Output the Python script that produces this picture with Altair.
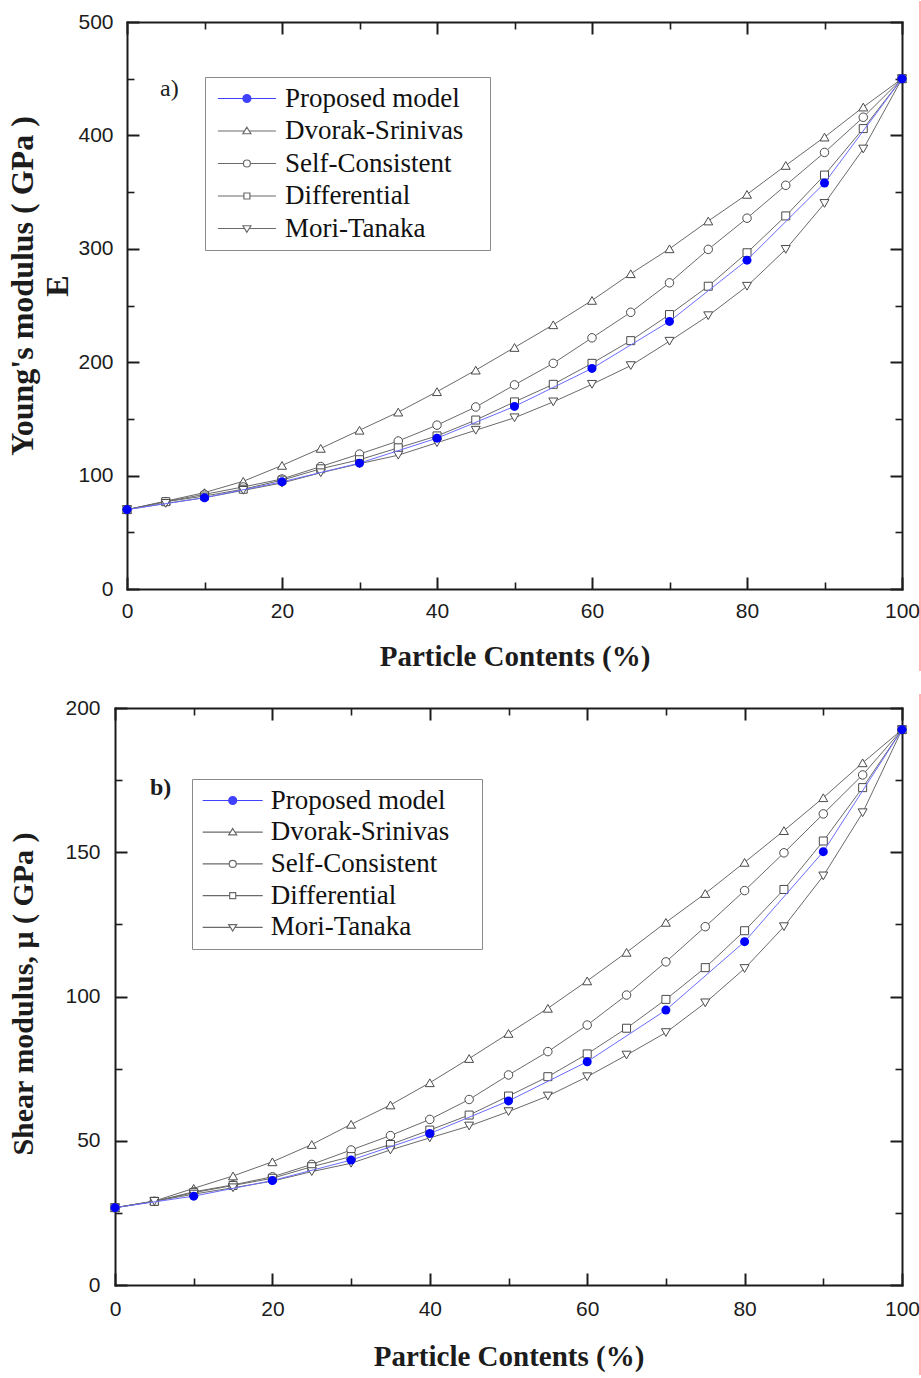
import altair as alt
import pandas as pd

# ---------------- data ----------------
pct = list(range(0, 101, 5))          # 0,5,...,100
pct_prop = list(range(0, 101, 10))    # 0,10,...,100

series_names = ["Proposed model", "Dvorak-Srinivas", "Self-Consistent",
                "Differential", "Mori-Tanaka"]

# a) Young's modulus E (GPa)
E_proposed = [70, 80.5, 94.5, 111, 133, 161, 194.5, 236, 290, 358, 450]
E_dvorak = [70, 77.5, 85, 95, 109, 124, 140, 156, 174, 193, 213, 233, 254.5,
            278, 300, 324.5, 348, 373.5, 398.5, 425, 450]
E_self = [70, 77, 83.5, 90, 97, 108, 119, 130.5, 144.5, 160.5, 180, 199,
          221.5, 244, 270, 299.5, 327, 356, 385, 416, 450]
E_diff = [70, 77, 82, 88, 96, 106, 114, 124.5, 135, 149, 165, 180.5, 199,
          219, 242, 267, 296.5, 329, 365, 406, 450]
E_mori = [70, 75.5, 80.5, 87, 93.5, 102.5, 110.5, 118, 129, 140, 151, 165,
          180.5, 197, 218.5, 241, 267, 299.5, 340, 388, 450]

# b) Shear modulus mu (GPa)
G_proposed = [26.8, 30.8, 36.2, 43.3, 52.5, 63.8, 77.4, 95.3, 119, 150.2, 192.5]
G_dvorak = [26.8, 29.1, 33.5, 37.8, 42.7, 48.7, 55.7, 62.4, 70.1, 78.5, 87.2,
            95.9, 105.4, 115.3, 125.7, 135.7, 146.5, 157.5, 168.9, 181, 192.5]
G_self = [26.8, 29, 32.3, 34.7, 37.5, 41.8, 46.8, 51.8, 57.4, 64.3, 72.8,
          80.9, 90.1, 100.5, 112, 124.2, 136.7, 149.8, 163.3, 176.8, 192.5]
G_diff = [26.8, 29, 32, 34.5, 37, 41, 44.5, 48.7, 53.7, 58.9, 65.5, 72.2,
          80.1, 89, 99, 110, 122.8, 137.1, 153.9, 172.4, 192.5]
G_mori = [26.8, 29, 31.5, 33.7, 36, 39.3, 42.2, 46.8, 51, 55.1, 60.1, 65.5,
          72.2, 79.7, 87.5, 97.8, 109.7, 124.2, 141.8, 163.7, 192.5]

x_major = [0, 20, 40, 60, 80, 100]
x_minor = [10, 30, 50, 70, 90]
E_major = [0, 100, 200, 300, 400, 500]
E_minor = [50, 150, 250, 350, 450]
G_major = [0, 50, 100, 150, 200]
G_minor = [25, 75, 125, 175]

x_title = "Particle Contents (%)"
E_title = ["Young's modulus ( GPa )", "E"]
G_title = "Shear modulus, \u03bc ( GPa )"

# ---------------- styling ----------------
SERIF = "Liberation Serif"
SANS = "Liberation Sans"
INK = "#1c1c1c"
GRAY_LINE = "#6a6a6a"
MARK_STROKE = "#4a4a4a"
BLUE_LINE = "#6b6bff"
BLUE_DOT = "#0000ff"
LEG_BLUE = "#4040ff"
RED = "#ff6b6b"

marker = {
    "Dvorak-Srinivas": ("triangle-up", 80),
    "Self-Consistent": ("circle", 72),
    "Differential": ("square", 64),
    "Mori-Tanaka": ("triangle-down", 80),
}

dummy = pd.DataFrame({"a": [0]})


def circle_path(r):
    return f"M{-r},0A{r},{r} 0 1,1 {r},0A{r},{r} 0 1,1 {-r},0Z"


def legend_paths(L, reach):
    # "M{reach},0" is an empty move that only widens the legend frame
    prop = (f"M{-L},0H{L}" + "".join(circle_path(r) for r in (0.8, 0.62, 0.44, 0.26, 0.1))
            + f"M{reach},0")
    tri_up = f"M{-L},0H-0.46M0.46,0H{L}M0,-0.75L0.8,0.55L-0.8,0.55Z"
    circ = f"M{-L},0H-0.7M0.7,0H{L}" + circle_path(0.7)
    sq = f"M{-L},0H-0.6M0.6,0H{L}M-0.6,-0.6H0.6V0.6H-0.6Z"
    tri_dn = f"M{-L},0H-0.46M0.46,0H{L}M0,0.75L0.8,-0.55L-0.8,-0.55Z"
    return [prop, tri_up, circ, sq, tri_dn]


def tick_axis(orient, offset, size, values, labels=False, title=None, label_pad=0,
              title_pad=0, title_size=29, line_height=None, title_y=None, width=2):
    kw = dict(orient=orient, offset=-offset, tickSize=size, values=values,
              labels=labels, domain=False, grid=False, ticks=True,
              tickColor=INK, tickWidth=width, title=title)
    if labels:
        kw.update(labelFont=SANS, labelFontSize=21, labelColor=INK,
                  labelPadding=label_pad, labelFlush=False, labelOverlap=False)
    if title is not None:
        kw.update(titleFont=SERIF, titleFontSize=title_size, titleFontWeight="bold",
                  titleColor=INK, titlePadding=title_pad)
        if line_height is not None:
            kw["titleLineHeight"] = line_height
        if title_y is not None:
            kw["titleY"] = title_y
    return alt.Axis(**kw)


def frame_axis(orient, offset):
    # the frame of the plot is drawn as an axis line
    return alt.Axis(orient=orient, offset=-offset, domain=True, domainColor=INK,
                    domainWidth=2, domainCap="square", ticks=False, labels=False,
                    grid=False, title=None)


def build_panel(w, x0, h, ymax, ymaj, ymin, vals, prop, ytitle, ylab_pad, ytitle_pad,
                ytitle_y, ytitle_size, xlab_pad, xtitle_pad, leg_x, leg_y, row_pad,
                sym_off, lab_off, reach, half_len, tag, tag_weight, tag_x, tag_y,
                rule_y1, rule_y2, left_extent):
    xs = alt.Scale(domain=[0, 100], range=[x0, w], nice=False, zero=False)
    ys = alt.Scale(domain=[0, ymax], nice=False)
    x_axes = [
        tick_axis("bottom", 12, 12, x_major, labels=True, title=x_title,
                  label_pad=xlab_pad, title_pad=xtitle_pad),
        tick_axis("bottom", 7, 7, x_minor, width=1.6),
        tick_axis("top", 12, 12, x_major),
        tick_axis("top", 7, 7, x_minor, width=1.6),
        frame_axis("bottom", 0),
        frame_axis("top", 0),
    ]
    y_axes = [
        tick_axis("left", x0 + 12, 12, ymaj, labels=True, title=ytitle,
                  label_pad=ylab_pad, title_pad=ytitle_pad, title_size=ytitle_size,
                  line_height=35, title_y=ytitle_y),
        tick_axis("left", x0 + 7, 7, ymin, width=1.6),
        tick_axis("right", 12, 12, ymaj),
        tick_axis("right", 7, 7, ymin, width=1.6),
        frame_axis("left", x0),
        frame_axis("right", 0),
    ]

    specs = []
    for name in ["Dvorak-Srinivas", "Self-Consistent", "Differential", "Mori-Tanaka"]:
        df = pd.DataFrame({"x": pct, "v": vals[name]})
        specs.append((df, "line", name))
        specs.append((df, "point", name))
    dfp = pd.DataFrame({"x": pct_prop, "v": prop})
    specs.append((dfp, "line", "Proposed model"))
    specs.append((dfp, "point", "Proposed model"))

    layers = []
    for i, (df, kind, name) in enumerate(specs):
        xa = x_axes[i] if i < len(x_axes) else None
        ya = y_axes[i] if i < len(y_axes) else None
        base = alt.Chart(df)
        if kind == "line":
            color = BLUE_LINE if name == "Proposed model" else GRAY_LINE
            m = base.mark_line(color=color, strokeWidth=1)
        elif name == "Proposed model":
            m = base.mark_circle(color=BLUE_DOT, size=81, opacity=1)
        else:
            shp, sz = marker[name]
            m = base.mark_point(shape=shp, size=sz, filled=False, fill="white",
                                stroke=MARK_STROKE, strokeWidth=1, opacity=1)
        layers.append(m.encode(
            x=alt.X("x:Q", scale=xs, axis=xa),
            y=alt.Y("v:Q", scale=ys, axis=ya),
        ))

    leg = alt.Legend(
        orient="none", legendX=leg_x, legendY=leg_y, title=None, padding=8,
        strokeColor="#8a8a8a", fillColor="white", labelFont=SERIF,
        labelFontSize=27, labelColor="#111111", labelLimit=600,
        symbolSize=100, symbolStrokeWidth=1.2, rowPadding=row_pad,
        labelOffset=lab_off, symbolOffset=sym_off,
    )
    legend_layer = alt.Chart(pd.DataFrame({"series": series_names})).transform_filter(
        "false"
    ).mark_point(filled=False, fill="white", strokeWidth=1.2, opacity=1, size=100).encode(
        color=alt.Color("series:N", scale=alt.Scale(
            domain=series_names, range=[LEG_BLUE] + [GRAY_LINE] * 4), legend=leg),
        shape=alt.Shape("series:N", scale=alt.Scale(
            domain=series_names, range=legend_paths(half_len, reach)), legend=leg),
    )
    layers.append(legend_layer)

    layers.append(alt.Chart(dummy).mark_text(
        text=tag, font=SERIF, fontSize=24, fontWeight=tag_weight, align="left",
        baseline="middle", color=INK).encode(x=alt.value(tag_x), y=alt.value(tag_y)))

    # red guide line at the right edge of the figure
    layers.append(alt.Chart(dummy).mark_rule(color=RED, strokeWidth=1).encode(
        x=alt.value(w + 18), y=alt.value(rule_y1), y2=alt.value(rule_y2)))
    # white (invisible) spacer that fixes the panel's left margin
    layers.append(alt.Chart(dummy).mark_rule(color="white", strokeWidth=1).encode(
        x=alt.value(-left_extent + 0.5), y=alt.value(h / 2), y2=alt.value(h / 2 + 1)))

    return alt.layer(*layers).resolve_axis(x="independent", y="independent").properties(
        width=w, height=h)


top = build_panel(
    787, 12, 567, 500, E_major, E_minor,
    {"Dvorak-Srinivas": E_dvorak, "Self-Consistent": E_self,
     "Differential": E_diff, "Mori-Tanaka": E_mori},
    E_proposed, E_title, ylab_pad=14, ytitle_pad=3, ytitle_y=263.5, ytitle_size=32,
    xlab_pad=11.5, xtitle_pad=21, leg_x=90, leg_y=55, row_pad=4.5,
    sym_off=20.4, lab_off=24.5, reach=46.4, half_len=5.8, tag="a)",
    tag_weight="normal", tag_x=45, tag_y=67, rule_y1=-21, rule_y2=567 + 82,
    left_extent=100)

bottom = build_panel(
    787, 0, 577, 200, G_major, G_minor,
    {"Dvorak-Srinivas": G_dvorak, "Self-Consistent": G_self,
     "Differential": G_diff, "Mori-Tanaka": G_mori},
    G_proposed, G_title, ylab_pad=15, ytitle_pad=26, ytitle_y=285.5, ytitle_size=30,
    xlab_pad=13, xtitle_pad=23.5, leg_x=77, leg_y=71, row_pad=3.7,
    sym_off=19.2, lab_off=24.5, reach=47.7, half_len=6.0, tag="b)",
    tag_weight="bold", tag_x=35, tag_y=80, rule_y1=-14, rule_y2=667,
    left_extent=115)

chart = alt.vconcat(top, bottom, spacing=21).resolve_scale(
    color="independent", shape="independent"
).properties(
    padding=0, background="white"
).configure_view(strokeWidth=0)

chart.save("out.html", embed_options={"renderer": "svg", "actions": False})
